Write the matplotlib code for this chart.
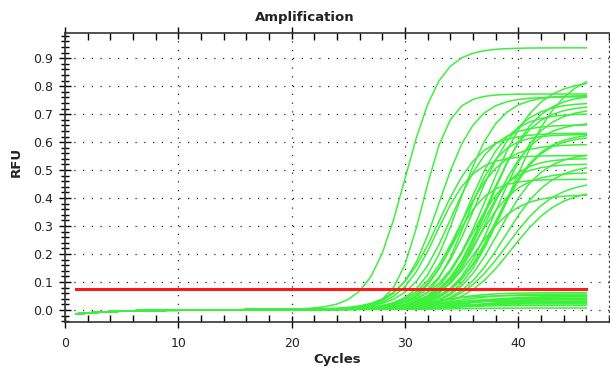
import numpy as np
import matplotlib
matplotlib.use("Agg")
import matplotlib.pyplot as plt
from matplotlib.ticker import MultipleLocator, FormatStrFormatter

plt.rcParams['font.family'] = ['DejaVu Sans']

cycles = np.arange(1, 47)
threshold = 0.075

# positive amplification curves: plateau, midpoint cycle, scale
pos_plateau = [0.935, 0.77, 0.76, 0.63, 0.86, 0.82, 0.765, 0.74, 0.73, 0.70,
               0.67, 0.66, 0.625, 0.63, 0.59, 0.55, 0.56, 0.52, 0.52, 0.49,
               0.465, 0.46, 0.43, 0.41, 0.62, 0.72, 0.54, 0.77]
pos_mid = [30.0, 31.6, 33.0, 33.0, 39.4, 37.3, 34.8, 36.2, 37.2, 35.4,
           37.4, 34.1, 35.3, 38.0, 34.8, 32.8, 38.3, 35.8, 38.8, 36.3,
           34.2, 39.0, 39.4, 36.2, 38.1, 38.1, 36.4, 37.5]
pos_scale = [1.55, 1.2, 1.6, 1.8, 2.3, 2.1, 1.7, 1.9, 1.9, 1.8,
             1.9, 1.8, 1.5, 1.9, 1.8, 1.6, 1.9, 1.7, 2.0, 1.8,
             1.5, 2.1, 2.1, 1.8, 1.8, 1.9, 1.6, 2.0]

# negative (flat) curves
neg_plateau = [0.06, 0.055, 0.05, 0.048, 0.045, 0.04, 0.038, 0.035, 0.03,
               0.028, 0.025, 0.02, 0.015, 0.005]
neg_mid = [33, 34, 32, 36, 35, 33, 37, 34, 32, 35, 36, 33, 34, 35]
neg_scale = [2.0, 2.2, 1.8, 2.5, 2.0, 2.2, 2.4, 1.9, 2.0, 2.3, 2.1, 2.0, 2.2, 2.0]

# common baseline drift (RFU) for cycles 1..46
baseline = [-0.014, -0.011, -0.008, -0.006, -0.004, -0.003, -0.002, -0.002, -0.001, -0.001,
            0.0, 0.0, 0.0, 0.0, 0.0, 0.001, 0.001, 0.001, 0.001, 0.001,
            0.001, 0.002, 0.002, 0.002, 0.002, 0.002, 0.002, 0.002, 0.002, 0.002,
            0.002, 0.002, 0.002, 0.002, 0.002, 0.002, 0.002, 0.002, 0.002, 0.002,
            0.002, 0.002, 0.002, 0.002, 0.002, 0.002]

fig = plt.figure(figsize=(6.10, 3.67), dpi=100)
ax = fig.add_axes([65/610, 1-322/367, (609-65)/610, (322-33)/367])

green = '#3cf03c'
base = np.array(baseline)
for F, c, s in zip(neg_plateau, neg_mid, neg_scale):
    y = base + F / (1 + np.exp(-(cycles - c) / s))
    ax.plot(cycles, y, color=green, lw=1.1)
for F, c, s in zip(pos_plateau, pos_mid, pos_scale):
    y = base + F / (1 + np.exp(-(cycles - c) / s))
    ax.plot(cycles, y, color=green, lw=1.1)

ax.plot([cycles[0], cycles[-1]], [threshold, threshold], color='#ff1a1a', lw=2.2)

ax.set_xlim(0, 48)
ax.set_ylim(-0.043, 0.99)
ax.xaxis.set_major_locator(MultipleLocator(10))
ax.xaxis.set_minor_locator(MultipleLocator(2))
ax.yaxis.set_major_locator(MultipleLocator(0.1))
ax.yaxis.set_minor_locator(MultipleLocator(0.02))
ax.yaxis.set_major_formatter(FormatStrFormatter('%.1f'))

ax.grid(True, which='major', color='#222222', linestyle=(0, (1, 6)), lw=0.9)
ax.tick_params(axis='y', which='major', direction='inout', length=9, width=1.0,
               labelsize=9, pad=4, labelcolor='#222222')
ax.tick_params(axis='y', which='minor', direction='inout', length=6, width=1.0)
ax.tick_params(axis='x', which='major', direction='inout', length=9, width=1.0,
               labelsize=9, pad=6, top=True, labelcolor='#222222')
ax.tick_params(axis='x', which='minor', direction='in', length=5, width=1.0, top=True)
for sp in ['left', 'bottom', 'top']:
    ax.spines[sp].set_color('#333333')
    ax.spines[sp].set_linewidth(1.2)
ax.spines['right'].set_linestyle((0, (1, 3)))
ax.spines['right'].set_color('#444444')
ax.spines['right'].set_linewidth(0.9)

fig.text(0.5, 1-18/367, 'Amplification', ha='center', va='center', fontsize=9.5, fontweight='bold',
         color='#222222')
fig.text((65+609)/2/610, 1-360/367, 'Cycles', ha='center', va='center', fontsize=9.5,
         fontweight='bold', color='#222222')
fig.text(16/610, 1-162/367, 'RFU', ha='center', va='center', fontsize=9.5, fontweight='bold',
         rotation=90, color='#222222')

fig.savefig('out.png', dpi=100)
